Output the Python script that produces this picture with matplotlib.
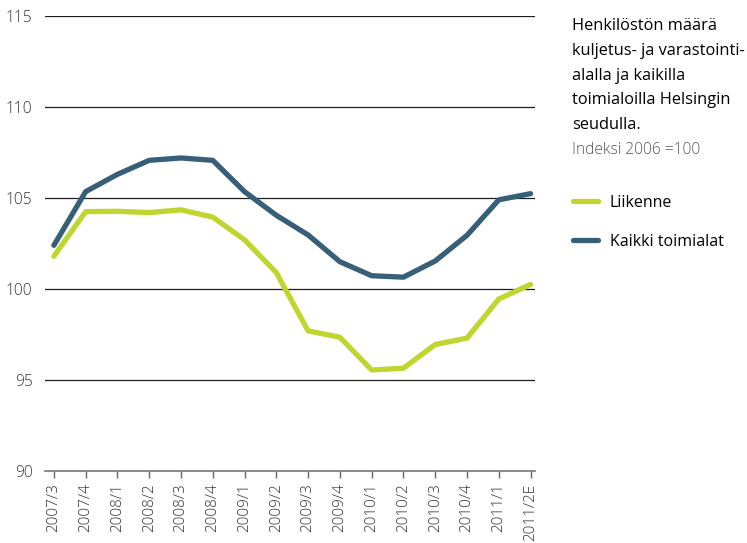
import matplotlib
matplotlib.use("Agg")
import matplotlib.pyplot as plt

periods = ["2007/3", "2007/4", "2008/1", "2008/2", "2008/3", "2008/4",
           "2009/1", "2009/2", "2009/3", "2009/4", "2010/1", "2010/2",
           "2010/3", "2010/4", "2011/1", "2011/2E"]
liikenne = [101.8, 104.25, 104.27, 104.2, 104.35, 103.95,
            102.7, 100.9, 97.7, 97.35, 95.55, 95.65,
            96.95, 97.3, 99.45, 100.25]
kaikki = [102.4, 105.35, 106.3, 107.07, 107.2, 107.07,
          105.35, 104.05, 102.97, 101.5, 100.73, 100.65,
          101.54, 102.95, 104.9, 105.24]
yticks = [90, 95, 100, 105, 110, 115]

GREEN = "#c0d62f"
BLUE = "#375f78"

plt.rcParams["font.family"] = ["Open Sans", "DejaVu Sans"]

fig = plt.figure(figsize=(7.47, 5.43), dpi=100)
ax = fig.add_axes([0.0602, 0.1326, 0.656, 0.8379])

x = list(range(len(periods)))
for y in yticks[1:]:
    ax.axhline(y, color="#1e1e1e", lw=0.9, zorder=1)

l1, = ax.plot(x, liikenne, color=GREEN, lw=3.8, solid_capstyle="round",
              solid_joinstyle="round", zorder=3, label="Liikenne")
l2, = ax.plot(x, kaikki, color=BLUE, lw=3.8, solid_capstyle="round",
              solid_joinstyle="round", zorder=3, label="Kaikki toimialat")

ax.set_xlim(-0.28, 15.14)
ax.set_ylim(90, 115)
ax.set_yticks(yticks)
ax.set_yticklabels([str(v) for v in yticks], fontsize=11.2, color="#333333",
                   fontweight="light")
ax.set_xticks(x)
ax.set_xticklabels(periods, rotation=90, fontsize=11, color="#333333",
                   fontweight="light")
ax.tick_params(axis="y", length=0, pad=9)
ax.tick_params(axis="x", length=5, width=1, color="#666666", pad=4)

for side in ["top", "right", "left"]:
    ax.spines[side].set_visible(False)
ax.spines["bottom"].set_color("#777777")
ax.spines["bottom"].set_linewidth(1.2)

fig.text(0.7657, 0.966, "Henkilöstön määrä\nkuljetus- ja varastointi-\nalalla ja kaikilla\ntoimialoilla Helsingin\nseudulla.",
         ha="left", va="top", fontsize=11.8, fontweight="normal",
         color="#000000", linespacing=1.72)
fig.text(0.7657, 0.738, "Indeksi 2006 =100", ha="left", va="top",
         fontsize=11.2, fontweight="light", color="#555555")

fig.legend(handles=[l1, l2], loc="upper left", bbox_to_anchor=(0.748, 0.668),
           frameon=False, fontsize=11.5, handlelength=1.55, handletextpad=0.75,
           labelspacing=1.45)

fig.savefig("out.png", dpi=100)
